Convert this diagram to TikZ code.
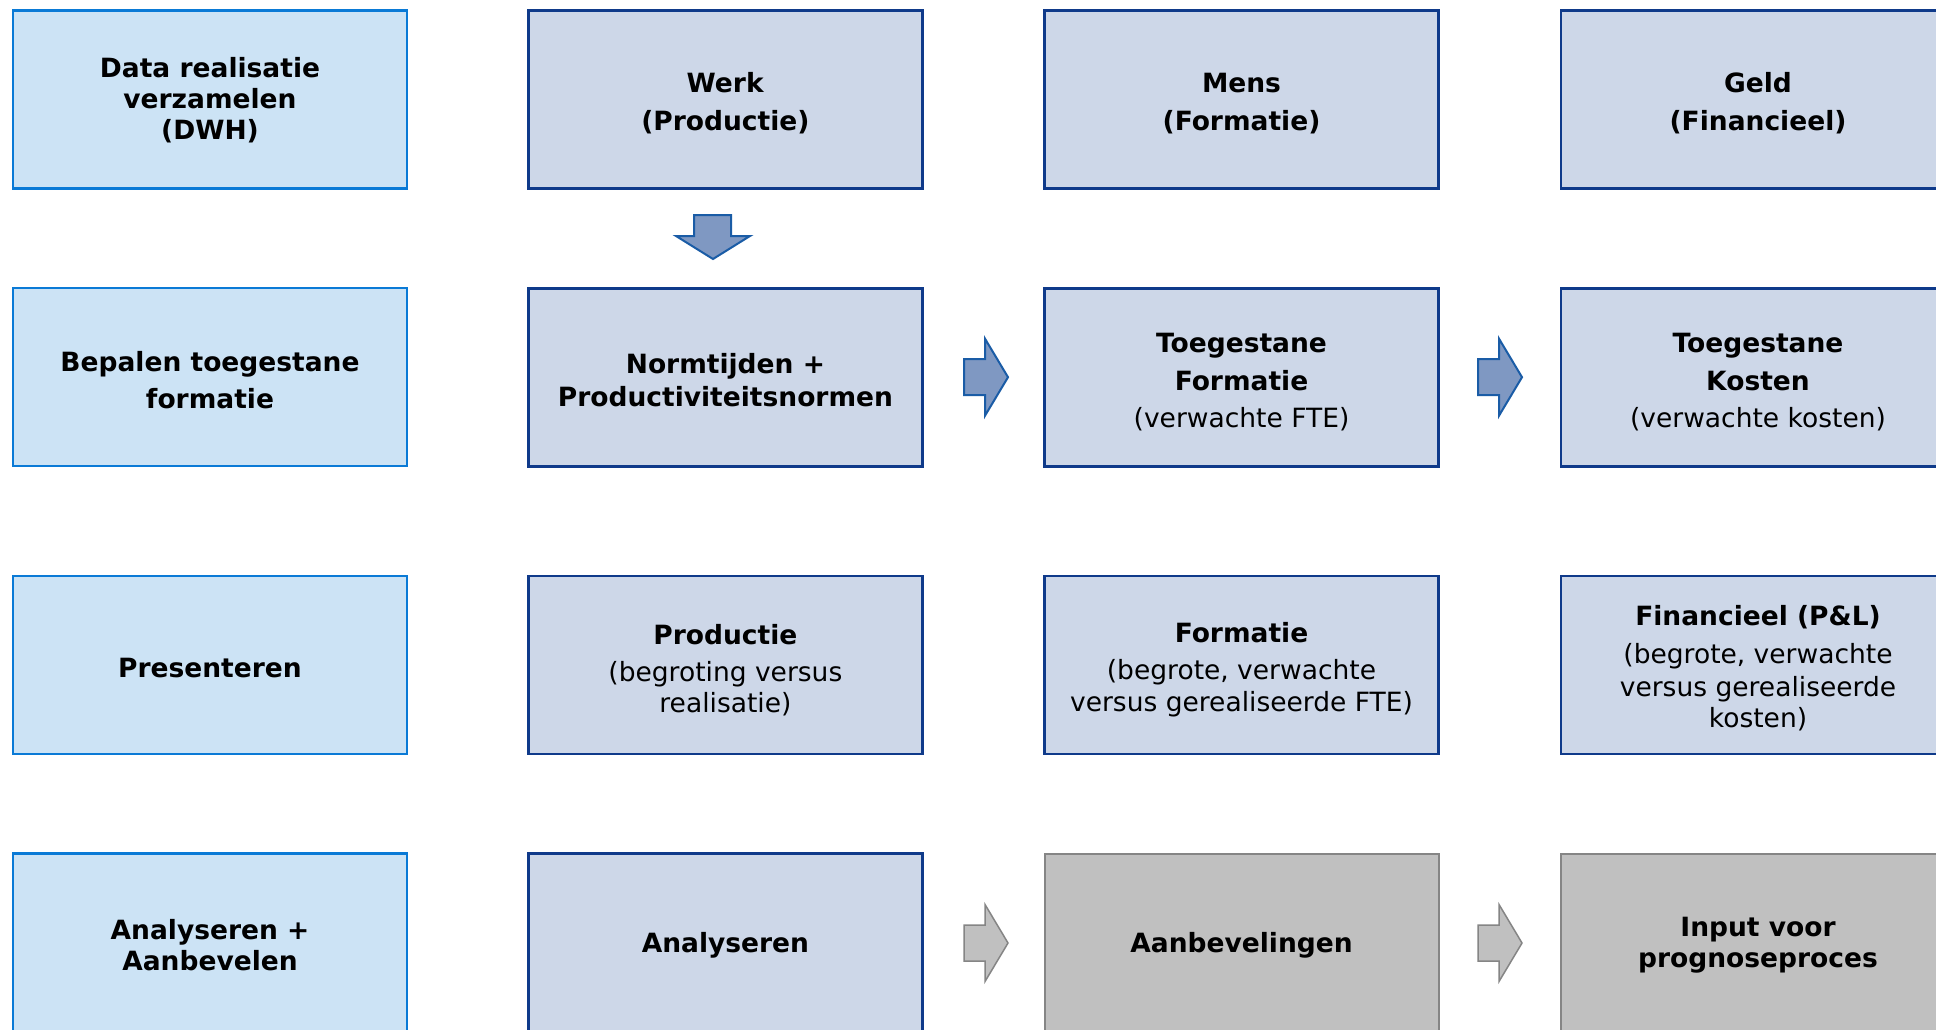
\documentclass[tikz,border=0pt]{standalone}
\usepackage{fontspec}
\setmainfont{DejaVu Sans}
\begin{document}
\begin{tikzpicture}[x=1pt,y=-1pt,
  every node/.style={font=\fontsize{26.5}{31}\selectfont, align=center, inner sep=0pt},
  stepcol/.style={draw=stepline, fill=lightblu, line width=2.4pt, minimum width=394pt, minimum height=178pt},
  workbox/.style={draw=navy, fill=paleblue, line width=2.6pt, minimum width=394pt, minimum height=178pt},
  greybox/.style={draw=greyline, fill=greyfill, line width=2pt, minimum width=394pt, minimum height=178pt},
  barrow/.style={draw=arrowline, fill=arrowfill, line width=2pt, line join=miter},
  garrow/.style={draw=greyline, fill=greyfill, line width=1.5pt, line join=miter}
]
\definecolor{lightblu}{HTML}{CCE3F5}
\definecolor{navy}{HTML}{0F3A8A}
\definecolor{paleblue}{HTML}{CDD7E8}
\definecolor{greyline}{HTML}{858585}
\definecolor{greyfill}{HTML}{C0C0C0}
\definecolor{arrowline}{HTML}{1A5CA6}
\definecolor{arrowfill}{HTML}{7F98C2}
\definecolor{stepline}{HTML}{0A7AD6}
\useasboundingbox (0,0) rectangle (1936,1030);
\clip (0,0) rectangle (1936,1030);
\fill[white] (0,0) rectangle (1936,1030);

% boxes
\node[stepcol] (a1) at (210,99.4) {};
\node[stepcol] (a2) at (210,377.2) {};
\node[stepcol] (a3) at (210,664.9) {};
\node[stepcol] (a4) at (210,942.6) {};
\node[workbox] (b1) at (725.4,99.4) {};
\node[workbox] (b2) at (725.4,377.2) {};
\node[workbox] (b3) at (725.4,664.9) {};
\node[workbox] (b4) at (725.4,942.6) {};
\node[workbox] (c1) at (1241.5,99.4) {};
\node[workbox] (c2) at (1241.5,377.2) {};
\node[workbox] (c3) at (1241.5,664.9) {};
\node[greybox] (c4) at (1241.5,942.6) {};
\node[workbox] (d1) at (1758,99.4) {};
\node[workbox] (d2) at (1758,377.2) {};
\node[workbox] (d3) at (1758,664.9) {};
\node[greybox] (d4) at (1758,942.6) {};

% texts
\node (a1t) at ([yshift=-1pt]a1.center) {\textbf{Data realisatie}\\\textbf{verzamelen}\\\textbf{(DWH)}};
\node (a2t) at ([yshift=-3pt]a2.center) {\textbf{Bepalen toegestane}\\[6pt]\textbf{formatie}};
\node (a3t) at ([yshift=-3pt]a3.center) {\textbf{Presenteren}};
\node (a4t) at ([yshift=-3pt]a4.center) {\textbf{Analyseren +}\\\textbf{Aanbevelen}};

\node (b1t) at ([yshift=-4pt]b1.center) {\textbf{Werk}\\[7pt]\textbf{(Productie)}};
\node (b2t) at ([yshift=-3pt]b2.center) {\textbf{Normtijden +}\\[2pt]\textbf{Productiviteitsnormen}};
\node (b3t) at ([yshift=-5pt]b3.center) {\textbf{Productie}\\[6pt](begroting versus\\realisatie)};
\node (b4t) at ([yshift=-3pt]b4.center) {\textbf{Analyseren}};

\node (c1t) at ([yshift=-4pt]c1.center) {\textbf{Mens}\\[7pt]\textbf{(Formatie)}};
\node (c2t) at ([yshift=-5pt]c2.center) {\textbf{Toegestane}\\[7pt]\textbf{Formatie}\\[6pt](verwachte FTE)};
\node (c3t) at ([yshift=-5pt]c3.center) {\textbf{Formatie}\\[6pt](begrote, verwachte\\[1pt]versus gerealiseerde FTE)};
\node (c4t) at ([yshift=-3pt]c4.center) {\textbf{Aanbevelingen}};

\node (d1t) at ([yshift=-4pt]d1.center) {\textbf{Geld}\\[7pt]\textbf{(Financieel)}};
\node (d2t) at ([yshift=-5pt]d2.center) {\textbf{Toegestane}\\[7pt]\textbf{Kosten}\\[6pt](verwachte kosten)};
\node (d3t) at ([yshift=-3pt]d3.center) {\textbf{Financieel (P\&L)}\\[7pt](begrote, verwachte\\[2pt]versus gerealiseerde\\kosten)};
\node (d4t) at ([yshift=-3pt]d4.center) {\textbf{Input voor}\\\textbf{prognoseproces}};

% down arrow (Werk -> Normtijden)
\draw[barrow, shift={(713,215)}] (-19,0) -- (18,0) -- (18,21) -- (37,21) -- (0,44) -- (-37,21) -- (-19,21) -- cycle;

% right arrows row 2
\draw[barrow, shift={(964,377.2)}] (0,-18) -- (21,-18) -- (21,-38.5) -- (44,0) -- (21,38.5) -- (21,18) -- (0,18) -- cycle;
\draw[barrow, shift={(1478,377.2)}] (0,-18) -- (21,-18) -- (21,-38.5) -- (44,0) -- (21,38.5) -- (21,18) -- (0,18) -- cycle;

% grey arrows row 4
\draw[garrow, shift={(964,943)}] (0,-18) -- (21,-18) -- (21,-38.5) -- (44,0) -- (21,38.5) -- (21,18) -- (0,18) -- cycle;
\draw[garrow, shift={(1478,943)}] (0,-18) -- (21,-18) -- (21,-38.5) -- (44,0) -- (21,38.5) -- (21,18) -- (0,18) -- cycle;
\end{tikzpicture}
\end{document}
